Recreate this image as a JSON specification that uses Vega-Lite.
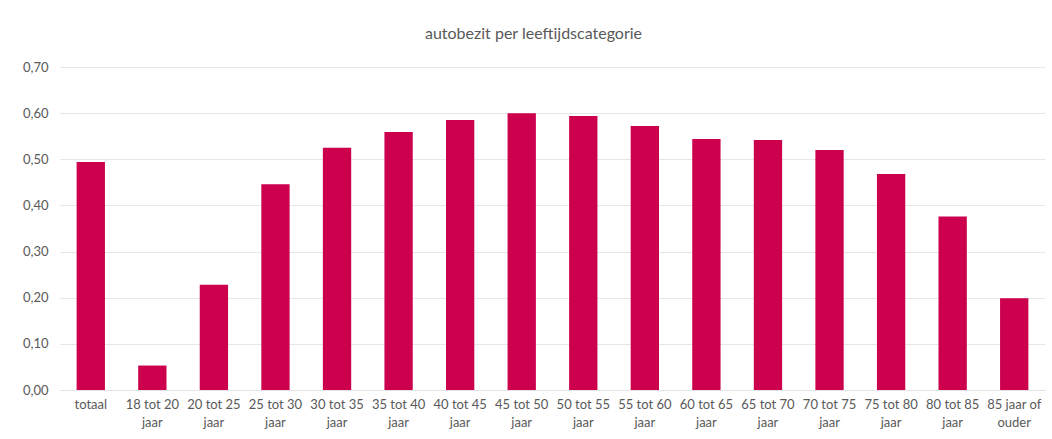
{
  "$schema": "https://vega.github.io/schema/vega-lite/v6.json",
  "width": 985,
  "height": 323,
  "autosize": {"type": "none"},
  "padding": {"left": 60, "top": 67, "right": 7, "bottom": 49},
  "background": "white",
  "title": {
    "text": "autobezit per leeftijdscategorie",
    "font": "Lato",
    "fontSize": 16,
    "fontWeight": "normal",
    "color": "#595959",
    "anchor": "middle",
    "dx": -19,
    "offset": 19
  },
  "data": {
    "values": [
      {"categorie": "totaal", "autobezit": 0.494},
      {"categorie": "18 tot 20 jaar", "autobezit": 0.053},
      {"categorie": "20 tot 25 jaar", "autobezit": 0.228},
      {"categorie": "25 tot 30 jaar", "autobezit": 0.446},
      {"categorie": "30 tot 35 jaar", "autobezit": 0.525},
      {"categorie": "35 tot 40 jaar", "autobezit": 0.559},
      {"categorie": "40 tot 45 jaar", "autobezit": 0.585},
      {"categorie": "45 tot 50 jaar", "autobezit": 0.600},
      {"categorie": "50 tot 55 jaar", "autobezit": 0.594},
      {"categorie": "55 tot 60 jaar", "autobezit": 0.572},
      {"categorie": "60 tot 65 jaar", "autobezit": 0.544},
      {"categorie": "65 tot 70 jaar", "autobezit": 0.542},
      {"categorie": "70 tot 75 jaar", "autobezit": 0.520},
      {"categorie": "75 tot 80 jaar", "autobezit": 0.468},
      {"categorie": "80 tot 85 jaar", "autobezit": 0.376},
      {"categorie": "85 jaar of ouder", "autobezit": 0.199}
    ]
  },
  "mark": {"type": "bar", "color": "#CC004C"},
  "encoding": {
    "x": {
      "field": "categorie",
      "type": "nominal",
      "sort": null,
      "scale": {"paddingInner": 0.54, "paddingOuter": 0.27},
      "axis": {
        "title": null,
        "labelAngle": 0,
        "ticks": false,
        "domain": true,
        "domainColor": "#E3E3E3",
        "labelPadding": 8,
        "labelFont": "Lato",
        "labelFontSize": 13,
        "labelColor": "#595959",
        "labelLineHeight": 18,
        "labelBaseline": "top",
        "labelExpr": "datum.label == 'totaal' ? 'totaal' : datum.label == '85 jaar of ouder' ? ['85 jaar of', 'ouder'] : [replace(datum.label, ' jaar', ''), 'jaar']"
      }
    },
    "y": {
      "field": "autobezit",
      "type": "quantitative",
      "scale": {"domain": [0, 0.7], "nice": false},
      "axis": {
        "title": null,
        "values": [0, 0.1, 0.2, 0.3, 0.4, 0.5, 0.6, 0.7],
        "labelExpr": "replace(format(datum.value, '.2f'), '.', ',')",
        "ticks": false,
        "domain": false,
        "grid": true,
        "gridColor": "#E6E6E6",
        "labelPadding": 12,
        "labelFont": "Lato",
        "labelFontSize": 13,
        "labelColor": "#595959"
      }
    }
  },
  "config": {"view": {"stroke": null}}
}
